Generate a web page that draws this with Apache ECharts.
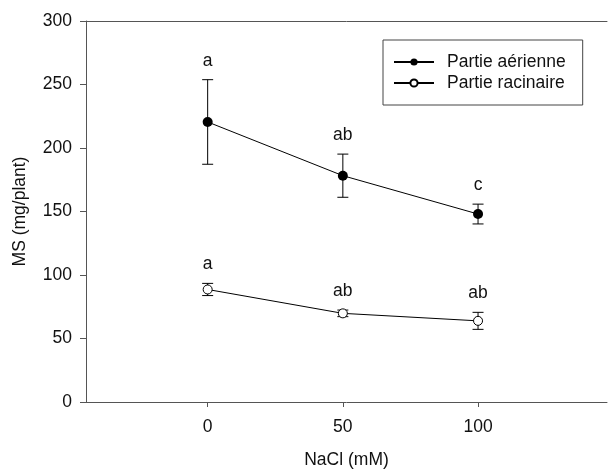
<!DOCTYPE html>
<html>
<head>
<meta charset="utf-8">
<script src="https://cdn.jsdelivr.net/npm/echarts@6/dist/echarts.min.js"></script>
<style>html,body{margin:0;padding:0;background:#fff;}#c{width:608px;height:469px;}</style>
</head>
<body>
<div id="c"></div>
<script>
const doses = [0, 50, 100];
const xTicks = [0, 50, 100];
const aerienne = [220.5, 178.2, 148.0];
const aerienneSE = [33.3, 17.0, 7.8];
const aerienneLetters = ['a', 'ab', 'c'];
const racinaire = [88.6, 69.8, 63.9];
const racinaireSE = [4.8, 2.6, 6.7];
const racinaireLetters = ['a', 'ab', 'ab'];

const FONT = '"Liberation Sans", Arial, sans-serif';
const FS = 17.5;
const AXIS = '#555';
const TXT = '#111';

function errData(means, se, letters) {
  return means.map((m, i) => [doses[i], m, se[i], letters[i]]);
}
function renderErr(params, api) {
  const x = api.value(0), m = api.value(1), s = api.value(2);
  const letter = api.value(3);
  const top = api.coord([x, m + s]);
  const bot = api.coord([x, m - s]);
  const cap = 5.5;
  const st = { stroke: '#000', lineWidth: 1 };
  return {
    type: 'group',
    children: [
      { type: 'line', shape: { x1: top[0], y1: top[1], x2: bot[0], y2: bot[1] }, style: st },
      { type: 'line', shape: { x1: top[0] - cap, y1: top[1], x2: top[0] + cap, y2: top[1] }, style: st },
      { type: 'line', shape: { x1: bot[0] - cap, y1: bot[1], x2: bot[0] + cap, y2: bot[1] }, style: st },
      { type: 'text', x: top[0], y: top[1] - 19,
        style: { text: letter, fill: TXT, font: FS + 'px ' + FONT, align: 'center', verticalAlign: 'middle' } }
    ]
  };
}

const chart = echarts.init(document.getElementById('c'), null, { renderer: 'canvas' });
chart.setOption({
  animation: false,
  backgroundColor: '#fff',
  textStyle: { fontFamily: FONT },
  grid: { left: 86, right: 1, top: 21, bottom: 67, containLabel: false, outerBoundsMode: 'none' },
  legend: {
    orient: 'vertical',
    left: 383, top: 40,
    padding: [12, 17, 12, 10],
    borderColor: '#444', borderWidth: 1,
    itemWidth: 40, itemHeight: 9, itemGap: 1,
    textStyle: { fontSize: FS, color: TXT, fontFamily: FONT, lineHeight: 20, padding: [0, 0, 0, 8] },
    data: ['Partie aérienne', 'Partie racinaire']
  },
  xAxis: [{
    type: 'value', min: -45, max: 147.7,
    name: 'NaCl (mM)', nameLocation: 'middle', nameGap: 49,
    nameTextStyle: { fontSize: FS, color: TXT, fontFamily: FONT },
    axisLine: { show: true, onZero: false, lineStyle: { color: AXIS, width: 1 } },
    axisTick: { show: true, inside: false, length: 5, lineStyle: { color: AXIS }, customValues: xTicks },
    axisLabel: { fontSize: FS, color: TXT, margin: 16, fontFamily: FONT, customValues: xTicks },
    splitLine: { show: false }
  }, {
    type: 'value', min: -45, max: 147.7, position: 'top',
    axisLine: { show: true, onZero: false, lineStyle: { color: AXIS, width: 1 } },
    axisTick: { show: false }, axisLabel: { show: false }, splitLine: { show: false }
  }],
  yAxis: {
    type: 'value', min: 0, max: 300, interval: 50, position: 'left',
    name: 'MS (mg/plant)', nameLocation: 'middle', nameGap: 57,
    nameTextStyle: { fontSize: FS, color: TXT, fontFamily: FONT },
    axisLine: { show: true, onZero: false, lineStyle: { color: AXIS, width: 1 } },
    axisTick: { show: true, inside: false, length: 6, lineStyle: { color: AXIS } },
    axisLabel: { fontSize: FS, color: TXT, margin: 14, fontFamily: FONT },
    splitLine: { show: false }
  },
  series: [
    { type: 'custom', name: 'errA', renderItem: renderErr, data: errData(aerienne, aerienneSE, aerienneLetters), z: 2, silent: true },
    { type: 'custom', name: 'errR', renderItem: renderErr, data: errData(racinaire, racinaireSE, racinaireLetters), z: 2, silent: true },
    {
      type: 'line', name: 'Partie aérienne', z: 5,
      data: doses.map((d, i) => [d, aerienne[i]]),
      symbol: 'circle', symbolSize: 10,
      lineStyle: { color: '#000', width: 1 },
      itemStyle: { color: '#000', borderColor: '#000', borderWidth: 0 }
    },
    {
      type: 'line', name: 'Partie racinaire', z: 5,
      data: doses.map((d, i) => [d, racinaire[i]]),
      symbol: 'circle', symbolSize: 9,
      lineStyle: { color: '#000', width: 1 },
      itemStyle: { color: '#fff', borderColor: '#000', borderWidth: 1 }
    }
  ]
});
</script>
</body>
</html>
